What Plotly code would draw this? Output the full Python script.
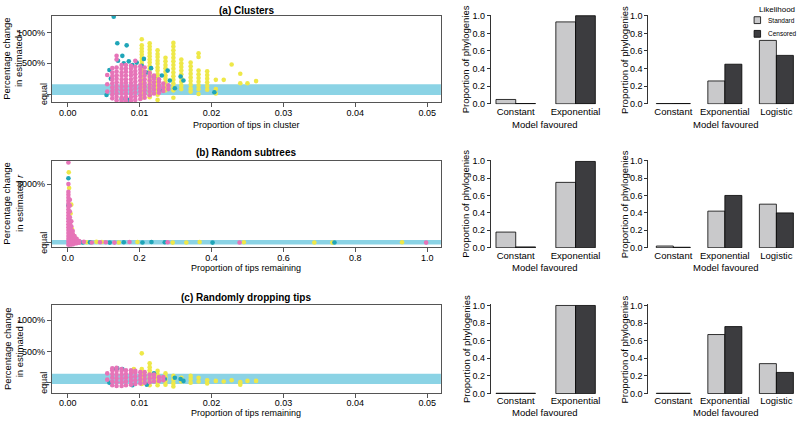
import plotly.graph_objects as go

# ---------------- DATA ----------------
# Panel (a) Clusters: columns of points (x, list of y in % change)
A_PINK_X = [0.0055, 0.0062, 0.0068, 0.0075, 0.0081, 0.0088, 0.0094, 0.0101, 0.0107, 0.0114, 0.0120, 0.0127, 0.0133, 0.0140]
A_PINK_Y = [
    [310, 160, 40],
    [-70, -10, 50, 110, 170, 230, 290, 350, 420],
    [-100, -45, 15, 75, 130, 190, 250, 305, 365, 430, 560, 620],
    [-110, -55, 5, 60, 120, 180, 235, 295, 350, 410, 470],
    [-105, -50, 10, 65, 125, 185, 240, 300, 360, 415, 470],
    [-110, -50, 5, 65, 125, 180, 240, 300, 355, 415, 460],
    [-95, -35, 25, 85, 140, 200, 260, 320, 375, 440, 540],
    [-80, -20, 40, 100, 160, 220, 280, 340, 400, 450],
    [-60, 0, 60, 120, 180, 240, 300, 360, 430],
    [-20, 40, 100, 160, 220, 280, 340],
    [10, 70, 130, 190, 250, 300],
    [20, 80, 140, 200, 240],
    [50, 110, 170],
    [80, 140],
]
A_CYAN_X = [0.0064, 0.0069, 0.0082, 0.0076, 0.0070, 0.0078, 0.0085, 0.0090, 0.0096, 0.0103, 0.0110, 0.0120,
            0.0139, 0.0142, 0.0157, 0.0161, 0.0149, 0.0054, 0.0075, 0.0083, 0.0128, 0.0106, 0.0058, 0.0060,
            0.0204, 0.0131, 0.0116]
A_CYAN_Y = [1254, 825, 790, 620, 540, 500, 530, 470, 510, 460, 350, 270,
            380, 220, 285, 220, 95, -16, -80, -95, 60, 570, 390, 250,
            30, 300, 420]
A_YEL_X = [0.0103, 0.0114, 0.0125, 0.0136, 0.0147, 0.0158, 0.0171, 0.0182, 0.0194, 0.0206, 0.0217, 0.0228, 0.0240, 0.0250, 0.0262]
A_YEL_Y = [
    [890, 790, 740, 690, 640, 590, 540, 490, 440, 390, 340, 290, 240, 190, 140, 90, 40, -10, -60],
    [825, 770, 720, 665, 615, 560, 510, 455, 405, 350, 300, 245, 195, 140, 90, 35, -15, -50],
    [710, 650, 600, 540, 490, 430, 380, 320, 270, 210, 160, 100, 50, -10, -95],
    [590, 530, 470, 420, 360, 300, 250, 190, 130, 80, 60],
    [830, 770, 710, 650, 590, 530, 470, 410, 350, 290, 230, 170, 110, 60, -60],
    [560, 500, 440, 380, 320, 260, 200, 140, 80],
    [510, 450, 390, 330, 270, 210, 150, 90, 40],
    [660, 600, 380, 320, 260, 200, 140, 80, 0],
    [370, 310, 250, 190, 130, 70],
    [230, 80, 10],
    [230],
    [480],
    [330, 175],
    [175],
    [210],
]
A_BAND = [-16, 159]

# Panel (b) Random subtrees
B_PINK_X = [0.002, 0.006, 0.010, 0.014, 0.019, 0.025, 0.032]
B_PINK_Y = [
    [4100, 3000, 2600, 2450, 2300, 2150, 2000, 1850, 1700, 1550, 1400, 1250, 1100, 950, 800, 650, 500, 350, 200, 50, -100],
    [2200, 1900, 1600, 1300, 1000, 800, 600, 450, 300, 150, 0, -120],
    [1100, 850, 650, 500, 350, 200, 80, -60],
    [600, 450, 300, 180, 60, -80],
    [350, 220, 100, -30],
    [200, 80, -20],
    [90, 0],
]
B_PINK_LINE_X = [0.028, 0.045, 0.067, 0.090, 0.106, 0.130, 0.172, 0.278, 0.478, 0.997]
B_PINK_LINE_Y = [40, 50, 20, 30, 30, 10, 40, 30, 20, 10]
B_CYAN_X = [0.002, 0.002, 0.004, 0.007, 0.012, 0.042, 0.062, 0.117, 0.156, 0.208, 0.233, 0.270, 0.403, 0.742]
B_CYAN_Y = [3300, 1900, 1200, 600, 250, 20, 30, 10, 30, 20, 40, 30, 10, 20]
B_YEL_X = [0.003, 0.004, 0.010, 0.008, 0.012, 0.015, 0.020, 0.053, 0.080, 0.095, 0.142, 0.194, 0.292,
           0.330, 0.367, 0.490, 0.686, 0.736, 0.930]
B_YEL_Y = [3600, 2800, 1950, 1500, 700, 400, 250, 30, 50, 40, 20, 40, 10,
           20, 40, 30, 20, 10, 30]
B_BAND = [-85, 150]

# Panel (c) Randomly dropping tips
C_PINK_X = [0.0055, 0.0062, 0.0068, 0.0075, 0.0081, 0.0088, 0.0094, 0.0101, 0.0107, 0.0114, 0.0120, 0.0127, 0.0133]
C_PINK_Y = [
    [150, 50],
    [-40, 20, 80, 140, 200, 230],
    [-50, 10, 70, 130, 190, 240],
    [-50, 10, 70, 130, 190, 220],
    [-40, 20, 80, 140, 200],
    [-30, 30, 90, 150, 200],
    [-20, 40, 100, 160, 190],
    [-10, 50, 110, 170],
    [0, 60, 120, 170],
    [10, 70, 130],
    [20, 80, 130],
    [30, 90],
    [40, 90],
]
C_CYAN_X = [0.0063, 0.0069, 0.0076, 0.0135, 0.0149, 0.0157, 0.0161, 0.0058, 0.0090, 0.0110, 0.0120]
C_CYAN_Y = [220, 230, 220, 60, 80, 60, 30, 0, -40, -30, 150]
C_YEL_X = [0.0092, 0.0103, 0.0114, 0.0125, 0.0136, 0.0147, 0.0158, 0.0171, 0.0182, 0.0194, 0.0206, 0.0217, 0.0228, 0.0240, 0.0250, 0.0262]
C_YEL_Y = [
    [220, 180],
    [470, 220, 160, 100, 40, -20],
    [310, 250, 200, 150, 90, 30, -40],
    [190, 130, 70, 10, -40],
    [150, 90, 30, -30],
    [110, 50, -10, -60],
    [80, 20],
    [110, 60, 0],
    [80, 20],
    [40, -10],
    [30],
    [20],
    [40],
    [10, -30],
    [30],
    [30],
]
C_BAND = [-20, 145]

# Bar panels: proportion of phylogenies favouring each model
MODELS_2 = ["Constant", "Exponential"]
MODELS_3 = ["Constant", "Exponential", "Logistic"]
A2_STD = [0.05, 0.93]
A2_CEN = [0.004, 1.0]
A3_STD = [0.004, 0.26, 0.72]
A3_CEN = [0.004, 0.45, 0.55]
B2_STD = [0.18, 0.75]
B2_CEN = [0.01, 0.99]
B3_STD = [0.02, 0.42, 0.50]
B3_CEN = [0.006, 0.60, 0.40]
C2_STD = [0.004, 1.0]
C2_CEN = [0.004, 1.0]
C3_STD = [0.004, 0.67, 0.34]
C3_CEN = [0.004, 0.76, 0.24]

# ---------------- STYLE ----------------
W, H = 799, 424
FONT = "Liberation Sans, Arial, Helvetica, sans-serif"
PINK = "#E674B8"
CYAN = "#1FA5B8"
YEL = "#EEE848"
BAND = "#8BD3E5"
STD = "#C9C9CB"
CEN = "#3C3C3F"
FRAME = "#555555"


def fx(p):
    return p / W


def fy(p):
    return 1 - p / H


def flat(xs, cols):
    X, Y = [], []
    for x, ys in zip(xs, cols):
        X += [x] * len(ys)
        Y += ys
    return X, Y


fig = go.Figure()


def scat(x, y, color, ax):
    fig.add_trace(go.Scatter(x=x, y=y, mode="markers", showlegend=False,
                             marker=dict(color=color, size=4.6, line=dict(width=0)),
                             xaxis="x" + ax, yaxis="y" + ax))


# (a)
scat(*flat(A_YEL_X, A_YEL_Y), YEL, "")
scat(A_CYAN_X, A_CYAN_Y, CYAN, "")
scat(*flat(A_PINK_X, A_PINK_Y), PINK, "")
# (b)
scat(B_YEL_X, B_YEL_Y, YEL, "4")
scat(B_CYAN_X, B_CYAN_Y, CYAN, "4")
bx, by = flat(B_PINK_X, B_PINK_Y)
scat(bx + B_PINK_LINE_X, by + B_PINK_LINE_Y, PINK, "4")
# (c)
scat(*flat(C_YEL_X, C_YEL_Y), YEL, "7")
scat(C_CYAN_X, C_CYAN_Y, CYAN, "7")
scat(*flat(C_PINK_X, C_PINK_Y), PINK, "7")


def bars(cats, std, cen, ax):
    fig.add_trace(go.Bar(x=cats, y=std, name="Standard", showlegend=False,
                         marker=dict(color=STD, line=dict(color="black", width=0.8)),
                         xaxis="x" + ax, yaxis="y" + ax))
    fig.add_trace(go.Bar(x=cats, y=cen, name="Censored", showlegend=False,
                         marker=dict(color=CEN, line=dict(color="black", width=0.8)),
                         xaxis="x" + ax, yaxis="y" + ax))


bars(MODELS_2, A2_STD, A2_CEN, "2")
bars(MODELS_3, A3_STD, A3_CEN, "3")
bars(MODELS_2, B2_STD, B2_CEN, "5")
bars(MODELS_3, B3_STD, B3_CEN, "6")
bars(MODELS_2, C2_STD, C2_CEN, "8")
bars(MODELS_3, C3_STD, C3_CEN, "9")

TICKF = dict(family=FONT, size=9, color="black")

# domains
SX = [fx(52), fx(442)]
MX = [fx(492), fx(600)]
RX = [fx(650), fx(799)]
ROWS_S = [(12, 100), (160, 248), (308, 397)]
ROWS_B = [(10.9, 102.4), (158.9, 249.4), (306.9, 398.4)]

layout = dict(width=W, height=H, margin=dict(l=0, r=0, t=0, b=0),
              paper_bgcolor="white", plot_bgcolor="white",
              font=dict(family=FONT, size=9, color="black"),
              barmode="group", bargap=0.34, bargroupgap=0, showlegend=False)

scatter_axes = [("", ROWS_S[0], [-0.0022, 0.0519], [-127, 1270], [0, 0.01, 0.02, 0.03, 0.04, 0.05], ".2f",
                 [0, 500, 1000], ["", "500%", "1000%"]),
                ("4", ROWS_S[1], [-0.044, 1.038], [-200, 4200], [0, 0.2, 0.4, 0.6, 0.8, 1.0], ".1f",
                 [0, 3000], ["", "3000%"]),
                ("7", ROWS_S[2], [-0.0022, 0.0519], [-156, 1234], [0, 0.01, 0.02, 0.03, 0.04, 0.05], ".2f",
                 [0, 500, 1000], ["", "500%", "1000%"])]

for ax, (t, b), xr, yr, xt, xf, yt, ytt in scatter_axes:
    k = ax if ax else ""
    layout["xaxis" + k] = dict(domain=SX, range=xr, anchor="y" + k, tickvals=xt, tickformat=xf,
                               showline=True, mirror=True, linecolor=FRAME, linewidth=1,
                               ticks="outside", ticklen=4, tickcolor=FRAME, showgrid=False,
                               zeroline=False, tickfont=TICKF)
    layout["yaxis" + k] = dict(domain=[fy(b), fy(t)], range=yr, anchor="x" + k, tickvals=yt, ticktext=ytt,
                               showline=True, mirror=True, linecolor=FRAME, linewidth=1,
                               ticks="outside", ticklen=4, tickcolor=FRAME, showgrid=False,
                               zeroline=False, tickfont=TICKF)

bar_axes = [("2", MX, ROWS_B[0], [-0.417, 1.383]), ("3", RX, ROWS_B[0], [-0.484, 2.40]),
            ("5", MX, ROWS_B[1], [-0.417, 1.383]), ("6", RX, ROWS_B[1], [-0.484, 2.40]),
            ("8", MX, ROWS_B[2], [-0.417, 1.383]), ("9", RX, ROWS_B[2], [-0.484, 2.40])]
for ax, dx, (t, b), xr in bar_axes:
    layout["xaxis" + ax] = dict(domain=dx, range=xr, anchor="y" + ax, type="category",
                                showline=False, ticks="", showgrid=False, zeroline=False,
                                tickfont=dict(family=FONT, size=9.5, color="black"))
    layout["yaxis" + ax] = dict(domain=[fy(b), fy(t)], range=[-0.004, 1.012], anchor="x" + ax,
                                tickvals=[0, 0.2, 0.4, 0.6, 0.8, 1.0], tickformat=".1f",
                                showline=True, linecolor="#333", linewidth=1, ticks="outside", ticklen=3,
                                tickcolor="#333", showgrid=False, zeroline=False, tickfont=TICKF)

fig.update_layout(**layout)

# pull the scatter x tick labels slightly closer to the axis (if supported)
try:
    for k in ["xaxis", "xaxis4", "xaxis7"]:
        fig.layout[k].ticklabelstandoff = -2
except Exception:
    pass

# bands
for ax, band in [("", A_BAND), ("4", B_BAND), ("7", C_BAND)]:
    k = ax if ax else ""
    fig.add_shape(type="rect", xref="x" + k + " domain", yref="y" + k, x0=0, x1=1, y0=band[0], y1=band[1],
                  fillcolor=BAND, line=dict(width=0), layer="below")

ann = []


def text(x, y, s, size=9, angle=0, bold=False, xanchor="center", yanchor="middle", yref="paper"):
    ann.append(dict(x=x, y=y, xref="paper", yref=yref, text=("<b>%s</b>" % s) if bold else s,
                    showarrow=False, textangle=angle, xanchor=xanchor, yanchor=yanchor, borderpad=0,
                    font=dict(family=FONT, size=size, color="black")))


titles = ["(a) Clusters", "(b) Random subtrees", "(c) Randomly dropping tips"]
title_y = [5, 153, 301]
xtitles = ["Proportion of tips in cluster", "Proportion of tips remaining", "Proportion of tips remaining"]
xtitle_y = [124.5, 271, 417.5]
yaxes_s = ["y", "y4", "y7"]
for i in range(3):
    t, b = ROWS_S[i]
    if i == 0:
        text(fx(247), 1.0, titles[i], size=10, bold=True, yanchor="top")
    else:
        text(fx(247), fy(title_y[i] - 1.5), titles[i], size=10, bold=True)
    if i == 2:
        text(fx(247), 0.0, xtitles[i], size=9, yanchor="bottom")
        text(fx(546), 0.0, "Model favoured", size=9.5, yanchor="bottom")
        text(fx(727), 0.0, "Model favoured", size=9.5, yanchor="bottom")
    else:
        text(fx(247), fy(xtitle_y[i] - 1), xtitles[i], size=9)
        text(fx(546), fy(xtitle_y[i] - 1.5), "Model favoured", size=9.5)
        text(fx(727), fy(xtitle_y[i] - 1.5), "Model favoured", size=9.5)
    text(fx(13), fy((t + b) / 2), "Percentage change<br>in estimated <i>r</i>", size=9.5, angle=-90)
    text(fx(44), 0, "equal", size=9, angle=-90, yref=yaxes_s[i])
    bt, bb = ROWS_B[i]
    text(fx(467), fy((bt + bb) / 2), "Proportion of phylogenies", size=9.5, angle=-90)
    text(fx(626), fy((bt + bb) / 2), "Proportion of phylogenies", size=9.5, angle=-90)

# legend (Likelihood)
text(fx(779), 1.0, "Likelihood", size=8, yanchor="top")
text(fx(769), fy(16.5), "Standard", size=6.5, xanchor="left")
text(fx(769), fy(30.5), "Censored", size=6.5, xanchor="left")
fig.update_layout(annotations=ann)
for (y0, y1, c) in [(13, 20, STD), (27, 34, CEN)]:
    fig.add_shape(type="rect", xref="paper", yref="paper", x0=fx(756), x1=fx(762.5), y0=fy(y1), y1=fy(y0),
                  fillcolor=c, line=dict(color="black", width=0.8))

fig.write_html("out.html", config={"displayModeBar": False},
               post_script="document.body.style.margin='0px';document.body.style.overflow='hidden';")
